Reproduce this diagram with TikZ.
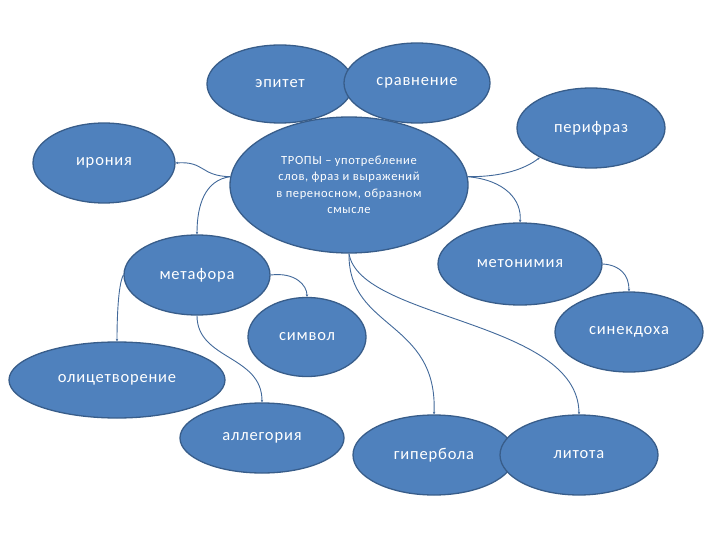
\documentclass[tikz,border=0pt]{standalone}
\usepackage{fontspec}
\setmainfont{Carlito}[LetterSpace=5]
\usetikzlibrary{shapes.geometric,arrows.meta}
\definecolor{bfill}{HTML}{4F81BD}
\definecolor{bdraw}{HTML}{385D8A}
\definecolor{cline}{HTML}{42699A}
\tikzset{
  oval/.style={ellipse, fill=bfill, draw=bdraw, line width=1.3pt, inner sep=0pt,
    text=white, font=\fontsize{16.5}{20}\selectfont},
  conn/.style={draw=cline, line width=0.9pt, -{Stealth[length=2.5pt,width=2.5pt]}},
}
\begin{document}
\begin{tikzpicture}[x=1pt,y=-1pt]
\useasboundingbox (0,0) rectangle (720,540);
% central node
\node[oval, minimum width=238pt, minimum height=136pt, align=center,
  font=\fontsize{12.5}{16.5}\selectfont] (ctr) at (349,185)
  {ТРОПЫ – употребление\\слов, фраз и выражений\\в переносном, образном\\смысле};
\node[oval, minimum width=146pt, minimum height=78pt] (epi) at (280,84) {эпитет};
\node[oval, minimum width=146pt, minimum height=80pt] (srav) at (417,83) {сравнение};
\node[oval, minimum width=148pt, minimum height=80pt] (peri) at (591,128) {перифраз};
\node[oval, minimum width=142pt, minimum height=80pt] (iron) at (104,163) {ирония};
\node[oval, minimum width=146pt, minimum height=80pt] (meta) at (197,275) {метафора};
\node[oval, minimum width=164pt, minimum height=82pt] (meto) at (520,264) {метонимия};
\node[oval, minimum width=118pt, minimum height=79pt] (simv) at (307,337) {символ};
\node[oval, minimum width=148pt, minimum height=80pt] (sine) at (629,332) {синекдоха};
\node[oval, minimum width=216pt, minimum height=76pt] (olic) at (117,380) {олицетворение};
\node[oval, minimum width=164pt, minimum height=70pt] (alle) at (262,438) {аллегория};
\node[oval, minimum width=162pt, minimum height=80pt] (gipe) at (434,455) {гипербола};
\node[oval, minimum width=158pt, minimum height=80pt] (lito) at (579,455) {литота};
% connectors
\draw[conn] (ctr.176) .. controls (200,176) and (205,161) .. (iron.east);
\draw[conn] (ctr.176) .. controls (205,180) and (197,205) .. (meta.north);
\draw[conn] (ctr.4) .. controls (510,177) and (530,165) .. (peri.210);
\draw[conn] (ctr.4) .. controls (505,180) and (522,200) .. (meto.north);
\draw[conn] (meto.east) .. controls (620,265) and (629,275) .. (sine.north);
\draw[conn] (meta.west) .. controls (118,285) and (117,320) .. (olic.north);
\draw[conn] (meta.east) .. controls (295,272) and (307,285) .. (simv.north);
\draw[conn] (meta.south) .. controls (197,360) and (262,355) .. (alle.north);
\draw[conn] (ctr.south) .. controls (348,330) and (438,320) .. (gipe.north);
\draw[conn] (ctr.south) .. controls (360,320) and (578,320) .. (lito.north);
\end{tikzpicture}
\end{document}
